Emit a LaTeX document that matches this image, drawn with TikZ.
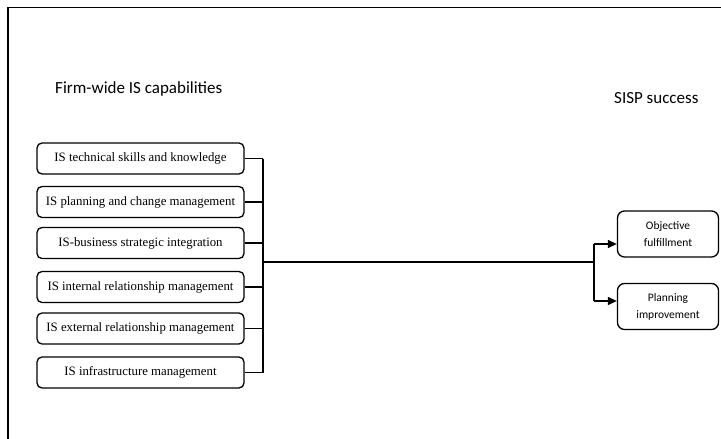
\documentclass[tikz,border=0pt]{standalone}
\usepackage{fontspec}
\setmainfont{Liberation Serif}
\newfontfamily\calib{Carlito}
\usetikzlibrary{arrows.meta}
\begin{document}
\begin{tikzpicture}[x=1pt,y=-1pt,
  capbox/.style={draw, rounded corners=5pt, line width=1.3pt, minimum width=207pt, minimum height=31pt, inner sep=0pt, font=\fontsize{12.8}{15}\selectfont},
  outbox/.style={draw, rounded corners=7pt, line width=1.3pt, minimum width=101pt, minimum height=46pt, inner sep=0pt, align=center, font=\calib\fontsize{11.5}{17}\selectfont},
  title/.style={font=\calib\fontsize{17}{19}\selectfont, inner sep=0pt},
  link/.style={line width=1.3pt},
  arr/.style={line width=1.3pt, -{Triangle[length=9pt,width=8pt]}}]
\useasboundingbox (0,0) rectangle (721,439);
% frame edges
\draw[line width=1.6pt] (8,440) -- (8,7.5) -- (722,7.5);
% column titles
\node[title, anchor=west] (lt) at (55,89) {Firm-wide IS capabilities};
\node[title, anchor=west] (rt) at (614,98) {SISP success};
% capability boxes
\node[capbox] (c1) at (140.5,158.5) {IS technical skills and knowledge};
\node[capbox] (c2) at (140.5,202) {IS planning and change management};
\node[capbox] (c3) at (140.5,243) {IS-business strategic integration};
\node[capbox] (c4) at (140.5,287) {IS internal relationship management};
\node[capbox] (c5) at (140.5,328.5) {IS external relationship management};
\node[capbox] (c6) at (140.5,372.5) {IS infrastructure management};
% outcome boxes
\node[outbox] (o1) at (668,234) {Objective\\fulfillment};
\node[outbox] (o2) at (668,306.5) {Planning\\improvement};
% collector bar
\coordinate (bt) at (263,158.5);
\coordinate (bb) at (263,372.5);
\coordinate (jm) at (263,262);
\coordinate (sp) at (594,262);
\coordinate (st) at (594,244);
\coordinate (sb) at (594,301);
\foreach \n in {c1,c2,c3,c4,c5,c6}
  \draw[link] (\n.east) -- (\n.east -| bt);
\draw[link] (bt) -- (bb);
\draw[link] (jm) -- (sp);
\draw[link] (st) -- (sb);
\draw[arr] (st) -- (st -| o1.west);
\draw[arr] (sb) -- (sb -| o2.west);
\end{tikzpicture}
\end{document}
